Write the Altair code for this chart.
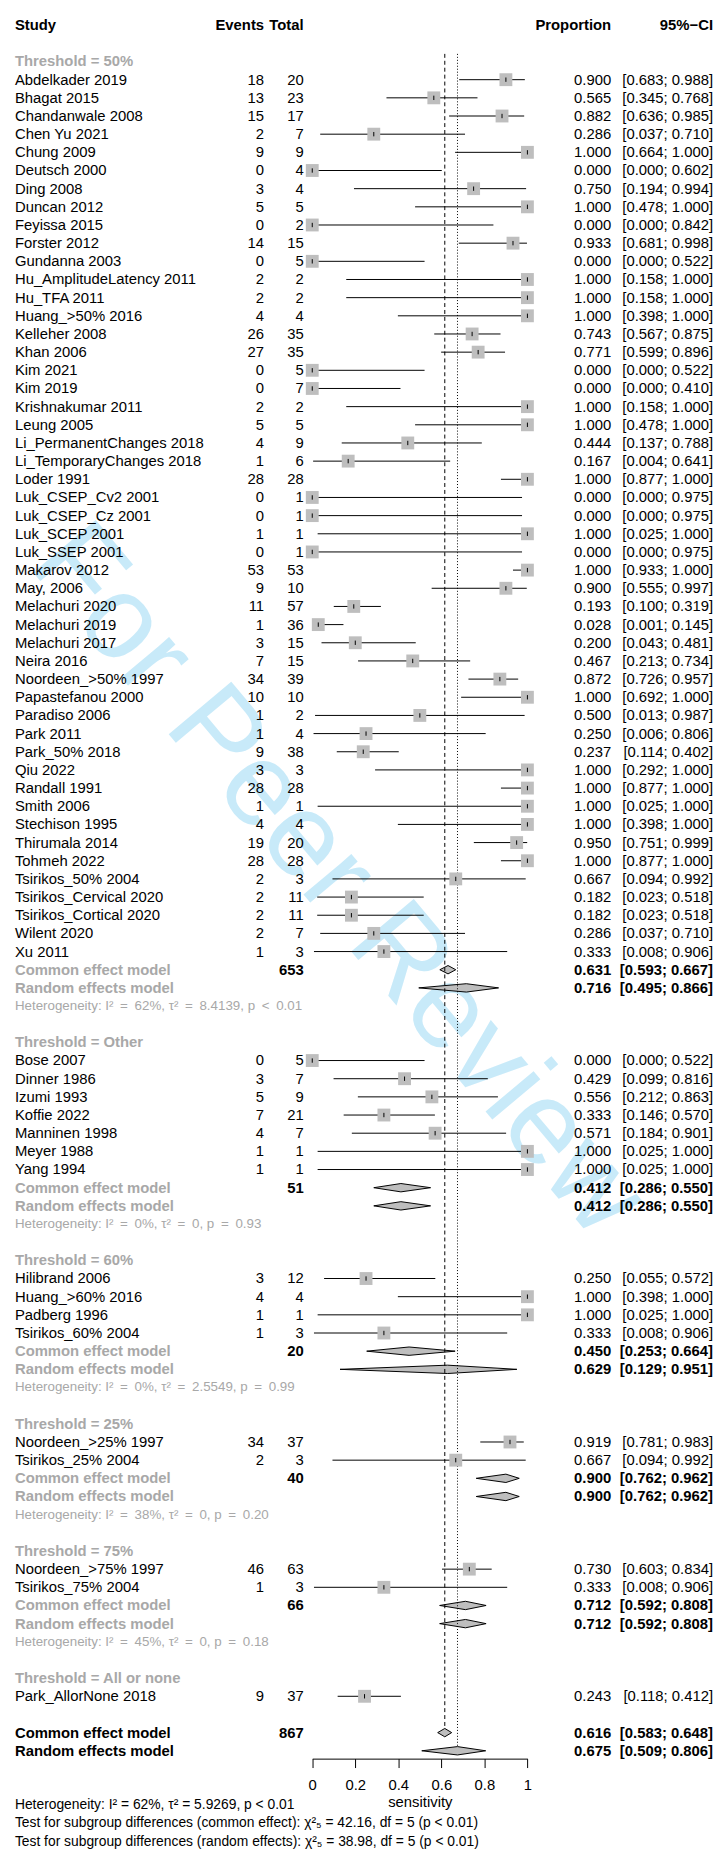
import altair as alt
import pandas as pd

FONT = "Liberation Sans, Arial, Helvetica, sans-serif"

# ---------------- data ----------------
g50_study = ["Abdelkader 2019", "Bhagat 2015", "Chandanwale 2008", "Chen Yu 2021", "Chung 2009",
             "Deutsch 2000", "Ding 2008", "Duncan 2012", "Feyissa 2015", "Forster 2012",
             "Gundanna 2003", "Hu_AmplitudeLatency 2011", "Hu_TFA 2011", "Huang_>50% 2016",
             "Kelleher 2008", "Khan 2006", "Kim 2021", "Kim 2019", "Krishnakumar 2011",
             "Leung 2005", "Li_PermanentChanges 2018", "Li_TemporaryChanges 2018", "Loder 1991",
             "Luk_CSEP_Cv2 2001", "Luk_CSEP_Cz 2001", "Luk_SCEP 2001", "Luk_SSEP 2001",
             "Makarov 2012", "May, 2006", "Melachuri 2020", "Melachuri 2019", "Melachuri 2017",
             "Neira 2016", "Noordeen_>50% 1997", "Papastefanou 2000", "Paradiso 2006",
             "Park 2011", "Park_50% 2018", "Qiu 2022", "Randall 1991", "Smith 2006",
             "Stechison 1995", "Thirumala 2014", "Tohmeh 2022", "Tsirikos_50% 2004",
             "Tsirikos_Cervical 2020", "Tsirikos_Cortical 2020", "Wilent 2020", "Xu 2011"]
g50_events = [18, 13, 15, 2, 9, 0, 3, 5, 0, 14, 0, 2, 2, 4, 26, 27, 0, 0, 2, 5, 4, 1, 28,
              0, 0, 1, 0, 53, 9, 11, 1, 3, 7, 34, 10, 1, 1, 9, 3, 28, 1, 4, 19, 28, 2, 2, 2, 2, 1]
g50_total = [20, 23, 17, 7, 9, 4, 4, 5, 2, 15, 5, 2, 2, 4, 35, 35, 5, 7, 2, 5, 9, 6, 28,
             1, 1, 1, 1, 53, 10, 57, 36, 15, 15, 39, 10, 2, 4, 38, 3, 28, 1, 4, 20, 28, 3, 11, 11, 7, 3]
g50_prop = [0.900, 0.565, 0.882, 0.286, 1.000, 0.000, 0.750, 1.000, 0.000, 0.933, 0.000,
            1.000, 1.000, 1.000, 0.743, 0.771, 0.000, 0.000, 1.000, 1.000, 0.444, 0.167,
            1.000, 0.000, 0.000, 1.000, 0.000, 1.000, 0.900, 0.193, 0.028, 0.200, 0.467,
            0.872, 1.000, 0.500, 0.250, 0.237, 1.000, 1.000, 1.000, 1.000, 0.950, 1.000,
            0.667, 0.182, 0.182, 0.286, 0.333]
g50_lo = [0.683, 0.345, 0.636, 0.037, 0.664, 0.000, 0.194, 0.478, 0.000, 0.681, 0.000,
          0.158, 0.158, 0.398, 0.567, 0.599, 0.000, 0.000, 0.158, 0.478, 0.137, 0.004,
          0.877, 0.000, 0.000, 0.025, 0.000, 0.933, 0.555, 0.100, 0.001, 0.043, 0.213,
          0.726, 0.692, 0.013, 0.006, 0.114, 0.292, 0.877, 0.025, 0.398, 0.751, 0.877,
          0.094, 0.023, 0.023, 0.037, 0.008]
g50_hi = [0.988, 0.768, 0.985, 0.710, 1.000, 0.602, 0.994, 1.000, 0.842, 0.998, 0.522,
          1.000, 1.000, 1.000, 0.875, 0.896, 0.522, 0.410, 1.000, 1.000, 0.788, 0.641,
          1.000, 0.975, 0.975, 1.000, 0.975, 1.000, 0.997, 0.319, 0.145, 0.481, 0.734,
          0.957, 1.000, 0.987, 0.806, 0.402, 1.000, 1.000, 1.000, 1.000, 0.999, 1.000,
          0.992, 0.518, 0.518, 0.710, 0.906]

oth_study = ["Bose 2007", "Dinner 1986", "Izumi 1993", "Koffie 2022", "Manninen 1998", "Meyer 1988", "Yang 1994"]
oth_events = [0, 3, 5, 7, 4, 1, 1]
oth_total = [5, 7, 9, 21, 7, 1, 1]
oth_prop = [0.000, 0.429, 0.556, 0.333, 0.571, 1.000, 1.000]
oth_lo = [0.000, 0.099, 0.212, 0.146, 0.184, 0.025, 0.025]
oth_hi = [0.522, 0.816, 0.863, 0.570, 0.901, 1.000, 1.000]

g60_study = ["Hilibrand 2006", "Huang_>60% 2016", "Padberg 1996", "Tsirikos_60% 2004"]
g60_events = [3, 4, 1, 1]
g60_total = [12, 4, 1, 3]
g60_prop = [0.250, 1.000, 1.000, 0.333]
g60_lo = [0.055, 0.398, 0.025, 0.008]
g60_hi = [0.572, 1.000, 1.000, 0.906]

g25_study = ["Noordeen_>25% 1997", "Tsirikos_25% 2004"]
g25_events = [34, 2]
g25_total = [37, 3]
g25_prop = [0.919, 0.667]
g25_lo = [0.781, 0.094]
g25_hi = [0.983, 0.992]

g75_study = ["Noordeen_>75% 1997", "Tsirikos_75% 2004"]
g75_events = [46, 1]
g75_total = [63, 3]
g75_prop = [0.730, 0.333]
g75_lo = [0.603, 0.008]
g75_hi = [0.834, 0.906]

gall_study = ["Park_AllorNone 2018"]
gall_events = [9]
gall_total = [37]
gall_prop = [0.243]
gall_lo = [0.118]
gall_hi = [0.412]

group_labels = ["Threshold = 50%", "Threshold = Other", "Threshold = 60%",
                "Threshold = 25%", "Threshold = 75%", "Threshold = All or none"]

# subgroup summaries (first five groups)
sub_total = [653, 51, 20, 40, 66]
sub_ce = [0.631, 0.412, 0.450, 0.900, 0.712]
sub_ce_lo = [0.593, 0.286, 0.253, 0.762, 0.592]
sub_ce_hi = [0.667, 0.550, 0.664, 0.962, 0.808]
sub_re = [0.716, 0.412, 0.629, 0.900, 0.712]
sub_re_lo = [0.495, 0.286, 0.129, 0.762, 0.592]
sub_re_hi = [0.866, 0.550, 0.951, 0.962, 0.808]
sub_het = ["Heterogeneity: I² = 62%, τ² = 8.4139, p < 0.01",
           "Heterogeneity: I² = 0%, τ² = 0, p = 0.93",
           "Heterogeneity: I² = 0%, τ² = 2.5549, p = 0.99",
           "Heterogeneity: I² = 38%, τ² = 0, p = 0.20",
           "Heterogeneity: I² = 45%, τ² = 0, p = 0.18"]

overall_total = 867
overall_ce = [0.616, 0.583, 0.648]
overall_re = [0.675, 0.509, 0.806]

footer_lines = ["Heterogeneity: I² = 62%, τ² = 5.9269, p < 0.01",
                "Test for subgroup differences (common effect): χ²₅ = 42.16, df = 5 (p < 0.01)",
                "Test for subgroup differences (random effects): χ²₅ = 38.98, df = 5 (p < 0.01)"]

header = ["Study", "Events", "Total", "Proportion", "95%−CI"]
tick_values = [0, 0.2, 0.4, 0.6, 0.8, 1]
watermark = "For Peer Review"

# ---------------- layout ----------------
W, H = 714, 1850
X0, X1 = 307.7, 525.3
Y0, DY, NROW = 6.9, 18.37, 100
GRAY = "#A8A8A8"
BOXGRAY = "#BEBEBE"
HALF = 0.23  # diamond half height in rows

COLS = {"study": (7, "left"), "events": (259, "right"), "total": (299, "right"),
        "prop": (610, "right"), "ci": (713, "right")}

groups = [
    (g50_study, g50_events, g50_total, g50_prop, g50_lo, g50_hi),
    (oth_study, oth_events, oth_total, oth_prop, oth_lo, oth_hi),
    (g60_study, g60_events, g60_total, g60_prop, g60_lo, g60_hi),
    (g25_study, g25_events, g25_total, g25_prop, g25_lo, g25_hi),
    (g75_study, g75_events, g75_total, g75_prop, g75_lo, g75_hi),
    (gall_study, gall_events, gall_total, gall_prop, gall_lo, gall_hi),
]

texts = []   # row, col, text, style
studies = []
dfill = []   # diamond fill points
dline = []   # diamond outline points


def ci_txt(lo, hi):
    return f"[{lo:.3f}; {hi:.3f}]"


def add_diamond(did, r, est, lo, hi):
    dfill.append(dict(id=did, x=lo, y=r, y2=r))
    dfill.append(dict(id=did, x=est, y=r - HALF, y2=r + HALF))
    dfill.append(dict(id=did, x=hi, y=r, y2=r))
    for k, (xx, yy) in enumerate([(lo, r), (est, r - HALF), (hi, r), (est, r + HALF), (lo, r)]):
        dline.append(dict(id=did, seq=k, x=xx, y=yy))


def spaced(s):
    # plotmath-like wider spacing round relation signs
    return s.replace(" = ", "\u2002=\u2002").replace(" < ", "\u2002<\u2002")


for i, h in enumerate(header):
    col = ["study", "events", "total", "prop", "ci"][i]
    texts.append(dict(row=0, col=col, text=h, style="bold"))

r = 2
for gi, (names, ev, tot, pr, lo, hi) in enumerate(groups):
    texts.append(dict(row=r, col="study", text=group_labels[gi], style="graybold"))
    r += 1
    for j in range(len(names)):
        texts.append(dict(row=r, col="study", text=names[j], style="normal"))
        texts.append(dict(row=r, col="events", text=str(ev[j]), style="normal"))
        texts.append(dict(row=r, col="total", text=str(tot[j]), style="normal"))
        texts.append(dict(row=r, col="prop", text=f"{pr[j]:.3f}", style="normal"))
        texts.append(dict(row=r, col="ci", text=ci_txt(lo[j], hi[j]), style="normal"))
        studies.append(dict(row=r, est=pr[j], lo=lo[j], hi=hi[j]))
        r += 1
    if gi < len(sub_total):
        texts.append(dict(row=r, col="study", text="Common effect model", style="graybold"))
        texts.append(dict(row=r, col="total", text=str(sub_total[gi]), style="bold"))
        texts.append(dict(row=r, col="prop", text=f"{sub_ce[gi]:.3f}", style="bold"))
        texts.append(dict(row=r, col="ci", text=ci_txt(sub_ce_lo[gi], sub_ce_hi[gi]), style="bold"))
        add_diamond(f"ce{gi}", r, sub_ce[gi], sub_ce_lo[gi], sub_ce_hi[gi])
        r += 1
        texts.append(dict(row=r, col="study", text="Random effects model", style="graybold"))
        texts.append(dict(row=r, col="prop", text=f"{sub_re[gi]:.3f}", style="bold"))
        texts.append(dict(row=r, col="ci", text=ci_txt(sub_re_lo[gi], sub_re_hi[gi]), style="bold"))
        add_diamond(f"re{gi}", r, sub_re[gi], sub_re_lo[gi], sub_re_hi[gi])
        r += 1
        texts.append(dict(row=r, col="study", text=spaced(sub_het[gi]), style="het"))
        r += 1
    r += 1

r_ce = r
texts.append(dict(row=r, col="study", text="Common effect model", style="bold"))
texts.append(dict(row=r, col="total", text=str(overall_total), style="bold"))
texts.append(dict(row=r, col="prop", text=f"{overall_ce[0]:.3f}", style="bold"))
texts.append(dict(row=r, col="ci", text=ci_txt(overall_ce[1], overall_ce[2]), style="bold"))
add_diamond("ceall", r, *overall_ce)
r += 1
r_re = r
texts.append(dict(row=r, col="study", text="Random effects model", style="bold"))
texts.append(dict(row=r, col="prop", text=f"{overall_re[0]:.3f}", style="bold"))
texts.append(dict(row=r, col="ci", text=ci_txt(overall_re[1], overall_re[2]), style="bold"))
add_diamond("reall", r, *overall_re)
r += 3
for line in footer_lines:
    texts.append(dict(row=r, col="study", text=line, style="foot"))
    r += 1

tdf = pd.DataFrame(texts)
sdf = pd.DataFrame(studies)
fdf = pd.DataFrame(dfill)
ldf = pd.DataFrame(dline)
refs_ce = pd.DataFrame([dict(x=overall_ce[0], y=1.58, y2=r_ce - HALF)])
refs_re = pd.DataFrame([dict(x=overall_re[0], y=1.58, y2=r_re - HALF)])

# ---------------- scales ----------------
xscale = alt.Scale(domain=[0, 1], range=[X0, X1], nice=False, zero=False)
yscale = alt.Scale(domain=[0, NROW], range=[Y0, Y0 + NROW * DY], nice=False, zero=False)
xaxis = alt.Axis(values=tick_values, format="~g", title="sensitivity", grid=False,
                 offset=-90, tickSize=9, tickColor="black", domainColor="black",
                 tickWidth=1, domainWidth=1,
                 labelFont=FONT, labelFontSize=15, labelColor="black", labelPadding=10,
                 labelFlush=False, labelOverlap=False,
                 titleFont=FONT, titleFontSize=15, titleFontWeight="normal",
                 titleColor="black", titlePadding=2)


def X(f):
    return alt.X(f, type="quantitative", scale=xscale, axis=xaxis)


def Y(f):
    return alt.Y(f, type="quantitative", scale=yscale, axis=None)


layers = []

# watermark
layers.append(alt.Chart(pd.DataFrame({"t": [watermark]})).mark_text(
    angle=50, fontSize=120, color="#C8EAF9", font=FONT, align="center", baseline="middle"
).encode(x=alt.value(334), y=alt.value(872), text="t:N"))

# CI lines
layers.append(alt.Chart(sdf).mark_rule(color="black", strokeWidth=1).encode(
    x=X("lo"), x2="hi", y=Y("row")))

# diamonds: fill (one area per diamond) + outline
for did in fdf["id"].unique():
    sub = fdf[fdf["id"] == did]
    layers.append(alt.Chart(sub).mark_area(orient="vertical", color=BOXGRAY, opacity=1,
                                           interpolate="linear").encode(
        x=X("x"), y=Y("y"), y2="y2"))
layers.append(alt.Chart(ldf).mark_line(color="black", strokeWidth=1).encode(
    x=X("x"), y=Y("y"), detail="id:N", order="seq:Q"))

# reference lines
layers.append(alt.Chart(refs_ce).mark_rule(color="black", strokeWidth=1, strokeDash=[4, 3]).encode(
    x=X("x"), y=Y("y"), y2="y2"))
layers.append(alt.Chart(refs_re).mark_rule(color="black", strokeWidth=1, strokeDash=[1, 2]).encode(
    x=X("x"), y=Y("y"), y2="y2"))

# squares
layers.append(alt.Chart(sdf).mark_square(size=169, color=BOXGRAY, opacity=1, filled=True).encode(
    x=X("est"), y=Y("row")))

# tick in square
layers.append(alt.Chart(sdf).transform_calculate(
    ya="datum.row - 0.12", yb="datum.row + 0.12").mark_rule(color="black", strokeWidth=1).encode(
    x=X("est"), y=Y("ya"), y2="yb"))

STYLES = {
    "normal": dict(fontWeight="normal", color="black", fontSize=15),
    "bold": dict(fontWeight="bold", color="black", fontSize=15),
    "graybold": dict(fontWeight="bold", color=GRAY, fontSize=15),
    "het": dict(fontWeight="normal", color=GRAY, fontSize=13.5),
    "foot": dict(fontWeight="normal", color="black", fontSize=14),
}

for (col, style), sub in tdf.groupby(["col", "style"]):
    xpos, align = COLS[col]
    layers.append(alt.Chart(sub).mark_text(align=align, baseline="middle", font=FONT,
                                           **STYLES[style]).encode(
        x=alt.value(xpos), y=Y("row"), text="text:N"))

chart = alt.layer(*layers).properties(
    width=W, height=H, padding=0, autosize=alt.AutoSizeParams(type="none")
).configure_view(stroke=None)

chart.save("out.html", embed_options={"renderer": "svg", "actions": False})
